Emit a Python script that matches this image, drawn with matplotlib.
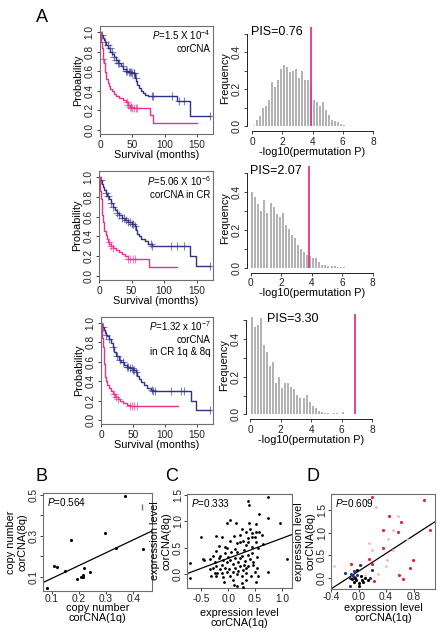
import numpy as np
import matplotlib
matplotlib.use("Agg")
import matplotlib.pyplot as plt

plt.rcParams['font.family'] = ['Liberation Sans', 'DejaVu Sans']
plt.rcParams['mathtext.fontset'] = 'custom'
plt.rcParams['mathtext.rm'] = 'Liberation Sans'
plt.rcParams['mathtext.it'] = 'Liberation Sans:italic'
plt.rcParams['axes.unicode_minus'] = False

# ---------------- data ----------------
# Kaplan-Meier curves (step points) and censor times
km1_blue_t = [0, 2, 4, 6, 8, 10, 13, 16, 19, 22, 25, 28, 32, 36, 40, 45, 50, 54, 56, 58, 60, 63, 66, 70, 75, 80, 120, 140, 170]
km1_blue_s = [1.0, 0.97, 0.94, 0.92, 0.9, 0.87, 0.84, 0.8, 0.77, 0.74, 0.71, 0.68, 0.65, 0.62, 0.6, 0.59, 0.58, 0.53, 0.5, 0.46, 0.43, 0.4, 0.38, 0.36, 0.35, 0.35, 0.3, 0.14, 0.14]
km1_blue_c = [3, 8, 12, 15, 18, 22, 25, 28, 30, 35, 40, 42, 45, 47, 48, 50, 52, 53, 55, 80, 82, 112, 123, 130, 170]
km1_pink_t = [0, 1, 2, 3, 4, 5, 6, 7, 8, 9, 10, 12, 14, 16, 18, 21, 25, 30, 35, 40, 43, 46, 49, 78, 82, 150]
km1_pink_s = [1.0, 0.95, 0.9, 0.84, 0.78, 0.72, 0.68, 0.63, 0.59, 0.56, 0.52, 0.48, 0.45, 0.42, 0.4, 0.37, 0.35, 0.33, 0.31, 0.29, 0.26, 0.24, 0.22, 0.15, 0.07, 0.07]
km1_pink_c = [5, 42, 44, 46, 48, 50, 52, 55, 58]

km2_blue_t = [0, 2, 4, 6, 8, 10, 12, 15, 18, 21, 24, 27, 30, 35, 40, 45, 50, 55, 57, 59, 62, 65, 70, 75, 82, 140, 149, 170]
km2_blue_s = [1.0, 0.97, 0.93, 0.9, 0.87, 0.84, 0.81, 0.78, 0.74, 0.7, 0.67, 0.64, 0.62, 0.59, 0.57, 0.55, 0.53, 0.5, 0.46, 0.42, 0.4, 0.37, 0.35, 0.32, 0.3, 0.2, 0.1, 0.1]
km2_blue_c = [3, 10, 14, 18, 22, 27, 30, 35, 38, 42, 45, 48, 50, 52, 55, 80, 82, 110, 120, 130, 170]
km2_pink_t = [0, 1, 2, 3, 4, 5, 6, 7, 8, 10, 12, 14, 16, 18, 22, 26, 30, 35, 40, 44, 76, 120]
km2_pink_s = [1.0, 0.93, 0.86, 0.78, 0.7, 0.62, 0.55, 0.5, 0.45, 0.41, 0.37, 0.34, 0.32, 0.3, 0.28, 0.26, 0.24, 0.22, 0.2, 0.17, 0.09, 0.09]
km2_pink_c = [15, 18, 22, 45, 48, 52, 56]

km3_blue_t = [0, 2, 4, 6, 8, 10, 12, 15, 18, 21, 24, 28, 32, 36, 40, 45, 50, 54, 57, 60, 63, 67, 72, 78, 82, 140, 149, 170]
km3_blue_s = [1.0, 0.96, 0.93, 0.9, 0.88, 0.86, 0.83, 0.79, 0.75, 0.7, 0.66, 0.62, 0.6, 0.57, 0.55, 0.54, 0.52, 0.49, 0.45, 0.42, 0.39, 0.36, 0.33, 0.31, 0.3, 0.2, 0.1, 0.1]
km3_blue_c = [3, 8, 12, 18, 25, 30, 35, 40, 42, 45, 48, 50, 52, 55, 80, 82, 84, 110, 125, 130, 170]
km3_pink_t = [0, 1, 2, 3, 4, 5, 6, 7, 8, 10, 12, 15, 18, 22, 26, 30, 35, 40, 45, 120]
km3_pink_s = [1.0, 0.92, 0.84, 0.75, 0.66, 0.58, 0.5, 0.44, 0.4, 0.36, 0.33, 0.3, 0.27, 0.24, 0.22, 0.2, 0.18, 0.16, 0.14, 0.14]
km3_pink_c = [20, 24, 26, 45, 48, 52, 56]

km_ptext = [r"$\mathit{P}$=1.5 X 10$^{-4}$", r"$\mathit{P}$=5.06 X 10$^{-6}$", r"$\mathit{P}$=1.32 x 10$^{-7}$"]
km_labels = ["corCNA", "corCNA in CR", "corCNA\nin CR 1q & 8q"]

# permutation histograms (bin centres 0.1, 0.3, ..., frequencies)
hist_centers = [0.1 + 0.2 * i for i in range(31)]
hist1 = [0.005, 0.035, 0.053, 0.10, 0.11, 0.14, 0.24, 0.21, 0.25, 0.31, 0.33, 0.32, 0.29, 0.30, 0.31,
         0.26, 0.30, 0.25, 0.25, 0.21, 0.14, 0.13, 0.11, 0.13, 0.085, 0.058, 0.035, 0.028, 0.02, 0.01, 0.005]
hist2 = [0.40, 0.37, 0.335, 0.30, 0.355, 0.29, 0.34, 0.32, 0.285, 0.265, 0.29, 0.225, 0.205, 0.17, 0.155,
         0.12, 0.10, 0.085, 0.065, 0.06, 0.05, 0.05, 0.03, 0.015, 0.012, 0.01, 0.008, 0.007, 0.005, 0.006, 0.003]
hist3 = [0.52, 0.466, 0.475, 0.51, 0.37, 0.33, 0.257, 0.276, 0.168, 0.20, 0.138, 0.165, 0.165, 0.147, 0.133,
         0.103, 0.085, 0.085, 0.103, 0.067, 0.044, 0.032, 0.02, 0.01, 0.009, 0.005, 0.003, 0.007, 0.005, 0.003, 0.01]
pis_obs = [3.9, 3.85, 6.86]
pis_text = ["PIS=0.76", "PIS=2.07", "PIS=3.30"]

# B: copy number
b_x = [0.084, 0.109, 0.121, 0.149, 0.171, 0.194, 0.208, 0.214, 0.216, 0.219, 0.241, 0.296, 0.336, 0.369, 0.437]
b_y = [0.047, 0.153, 0.149, 0.13, 0.278, 0.087, 0.097, 0.10, 0.11, 0.143, 0.121, 0.314, 0.242, 0.495, 0.237]
b_fit = (0.0285, 0.63)

# C: expression
c_x = [0.75, 0.36, 0.39, 0.58, 0.75, 0.96, 0.04, -0.02, 0.14, 0.39, 0.51, 0.26, 0.33, 0.41, 0.44, 0.52, 0.58,
       0.21, 0.11, -0.11, -0.22, -0.5, 0.63, 0.36, 0.5, 0.28, 0.22, 0.03, 0.16, 0.64, 0.52, -0.06, -0.02, -0.18,
       -0.22, 0.34, 0.44, 0.30, 0.16, 0.125, 0.06, -0.06, -0.16, -0.28, -0.34, -0.45, -0.25, -0.09, 0.0, 0.04,
       0.125, 0.22, 0.26, 0.36, 0.45, 0.54, 0.41, 0.47, 0.31, 0.19, 0.08, -0.03, -0.125, -0.22, -0.29, -0.16,
       -0.06, 0.02, 0.125, 0.22, 0.29, 0.375, 0.47, 0.53, 0.28, 0.19, 0.08, -0.02, -0.11, -0.21, -0.34, -0.22,
       -0.09, 0.03, 0.16, 0.25, 0.34, 0.42, 0.5, 0.56, -0.08, 0.11, 0.25, 0.28, 0.16, 0.52, 0.75, 1.09, -0.72,
       -0.72, -0.47, 0.08, 0.34, -0.18, 0.44, 0.375, 0.56, 0.33, -0.25, -0.33]
c_y = [1.47, 1.39, 1.32, 1.14, 1.07, 0.96, 1.03, 0.97, 0.96, 0.97, 0.94, 0.85, 0.80, 0.85, 0.77, 0.80, 0.80,
       0.74, 0.72, 0.71, 0.72, 0.71, 0.74, 0.68, 0.71, 0.63, 0.60, 0.63, 0.58, 0.57, 0.60, 0.52, 0.49, 0.53,
       0.44, 0.55, 0.51, 0.46, 0.42, 0.47, 0.41, 0.39, 0.34, 0.34, 0.28, 0.27, 0.23, 0.27, 0.32, 0.27,
       0.30, 0.31, 0.34, 0.36, 0.39, 0.32, 0.28, 0.23, 0.25, 0.22, 0.19, 0.22, 0.17, 0.14, 0.11, 0.095,
       0.12, 0.09, 0.12, 0.14, 0.17, 0.14, 0.16, 0.11, 0.076, 0.057, 0.03, 0.044, 0.013, 0.025, 0.09, -0.04,
       -0.06, -0.04, -0.006, -0.04, 0.013, -0.04, 0.044, -0.04, -0.16, -0.21, -0.18, -0.25, -0.24, -0.16, 0.044, 0.28, 0.215,
       -0.08, 0.28, -0.11, -0.11, 0.30, 0.71, 0.61, 0.49, 0.11, 0.013, -0.04]
c_fit = (0.296, 0.38)

# D: expression, coloured groups
d_red_x = [0.19, 0.95, 0.435, 0.61, 1.04, 0.36, 0.57, 0.35, 0.145, 0.79, 0.75, 0.59, 0.64, -0.11, 0.22, 0.19]
d_red_y = [1.79, 1.72, 1.37, 1.24, 1.06, 1.05, 1.02, 0.66, 0.42, 0.40, 0.22, 0.073, -0.02, 0.31, -0.07, 0.31]
d_pink_x = [0.26, 0.57, 0.50, 0.145, 0.43, 0.19, 0.50, 0.41, 0.40, -0.36, 0.70, 0.28, 0.04, 0.10]
d_pink_y = [1.56, 1.37, 1.06, 0.77, 0.86, 0.61, 0.62, 0.40, 0.26, 0.27, 0.86, 0.095, 0.29, 0.07]
d_navy_x = [-0.2, -0.11, -0.07, -0.06, 0.024, -0.12, 0.19, 0.16, -0.08, -0.13, -0.024]
d_navy_y = [0.12, 0.095, 0.146, 0.02, 0.29, -0.18, 0.18, 0.0, 0.05, 0.0, 0.07]
d_black_x = [-0.03, 0.0, 0.0, 0.05, 0.1, 0.13, -0.05, 0.034, -0.024, -0.1, 0.063, -0.07]
d_black_y = [-0.04, -0.11, -0.17, -0.04, 0.0, -0.04, 0.0, 0.037, 0.18, -0.02, -0.095, -0.095]
d_fit = (0.152, 0.98)

# ---------------- layout ----------------
W, H = 441, 633
fig = plt.figure(figsize=(W / 100, H / 100), dpi=100)

def rect(l, t, r, b):
    return [l / W, 1 - b / H, (r - l) / W, (b - t) / H]

BLUE = '#2E3388'
PINK = '#E8318F'
GRAY_BOX = '#6E6E6E'
FS = 7.3
LFS = 7.8

def style_ticks(ax, length=2.5, pad=1.5):
    ax.tick_params(direction='out', length=length, width=0.6, labelsize=FS, pad=pad, colors='#222222')
    for lab in ax.get_yticklabels():
        lab.set_rotation(90)
        lab.set_va('center')

km_rects = [(100, 26, 213, 134), (99, 171, 213, 280), (101, 317, 213, 424)]
km_data = [
    (km1_blue_t, km1_blue_s, km1_blue_c, km1_pink_t, km1_pink_s, km1_pink_c),
    (km2_blue_t, km2_blue_s, km2_blue_c, km2_pink_t, km2_pink_s, km2_pink_c),
    (km3_blue_t, km3_blue_s, km3_blue_c, km3_pink_t, km3_pink_s, km3_pink_c),
]
for i, (r, d) in enumerate(zip(km_rects, km_data)):
    ax = fig.add_axes(rect(*r))
    bt, bs, bc, pt, ps, pc = d
    for t, s, c, col in [(bt, bs, bc, BLUE), (pt, ps, pc, PINK)]:
        ax.step(t, s, where='post', color=col, lw=1.0)
        t_arr = np.array(t); s_arr = np.array(s)
        idx = np.searchsorted(t_arr, np.array(c), side='right') - 1
        ax.plot(c, s_arr[idx], ls='none', marker='+', ms=6, mew=0.8, color=col, alpha=0.6)
    ax.set_xlim(0, 175)
    ax.set_ylim(-0.04, 1.06)
    ax.set_xticks([0, 50, 100, 150])
    ax.set_yticks([0.0, 0.2, 0.4, 0.6, 0.8, 1.0])
    ax.set_yticklabels(['0.0', '0.2', '0.4', '0.6', '0.8', '1.0'])
    for sp in ax.spines.values():
        sp.set_color(GRAY_BOX)
        sp.set_linewidth(0.8)
    style_ticks(ax)
    ax.set_xlabel('Survival (months)', fontsize=LFS, labelpad=0)
    ax.set_ylabel('Probability', fontsize=LFS, labelpad=1)
    ax.text(0.98, 0.975, km_ptext[i], transform=ax.transAxes, ha='right', va='top', fontsize=7.0)
    ax.text(0.98, 0.83, km_labels[i], transform=ax.transAxes, ha='right', va='top',
            fontsize=7.0, linespacing=1.2)

# histograms
hist_geo = [(252, 15.125, 247, 126, 185, 131), (250.7, 15.25, 246.7, 267.7, 190, 272.7), (250, 15.3, 246, 414.3, 188, 419)]
hist_vals = [hist1, hist2, hist3]
pis_pos = [(0.03, 0.985), (0.025, 0.985), (0.16, 0.985)]
for i, (g, hv) in enumerate(zip(hist_geo, hist_vals)):
    x0, xs, yax, y0, ys, xax = g
    xmin = (yax - x0) / xs
    ymin = -(xax - y0) / ys
    xmax, ymax = 8.3, 0.55
    ax = fig.add_axes(rect(yax, y0 - ymax * ys, x0 + xmax * xs, xax))
    ax.bar(hist_centers, hv, width=0.13, color='#B3B3B3', edgecolor='none')
    ax.vlines(pis_obs[i], 0, 0.535, color=PINK, lw=1.3)
    ax.set_xlim(xmin, xmax)
    ax.set_ylim(ymin, ymax)
    for s in ['top', 'right']:
        ax.spines[s].set_visible(False)
    ax.spines['left'].set_bounds(0, 0.5)
    ax.spines['bottom'].set_bounds(0, 8)
    for s in ['left', 'bottom']:
        ax.spines[s].set_linewidth(0.7)
        ax.spines[s].set_color('#222222')
    ax.set_xticks([0, 2, 4, 6, 8])
    ax.set_yticks([0.0, 0.1, 0.2, 0.3, 0.4, 0.5])
    ax.set_yticklabels(['0.0', '', '0.2', '', '0.4', ''])
    style_ticks(ax)
    ax.set_xlabel('-log10(permutation P)', fontsize=LFS, labelpad=0)
    ax.set_ylabel('Frequency', fontsize=LFS, labelpad=1)
    ax.text(pis_pos[i][0], pis_pos[i][1], pis_text[i], transform=ax.transAxes, ha='left', va='top', fontsize=9)

fig.text(41.5 / W, 1 - 17 / H, 'A', fontsize=13, ha='center', va='center')

# bottom scatter panels
def scatter_panel(r, xlim, ylim, xticks, xtl, yticks, ytl, ptxt, xlabel, ylabel, fit, tpad, xlpad):
    ax = fig.add_axes(rect(*r))
    ax.set_xlim(*xlim)
    ax.set_ylim(*ylim)
    ax.set_xticks(xticks)
    ax.set_xticklabels(xtl)
    ax.set_yticks(yticks)
    ax.set_yticklabels(ytl)
    for sp in ax.spines.values():
        sp.set_color(GRAY_BOX)
        sp.set_linewidth(0.8)
    style_ticks(ax, length=2.0, pad=1.0)
    ax.tick_params(axis='x', pad=tpad)
    ax.axline((0, fit[0]), slope=fit[1], color='black', lw=0.9, zorder=1)
    ax.text(0.04, 0.97, ptxt, transform=ax.transAxes, ha='left', va='top', fontsize=7.2)
    ax.set_xlabel(xlabel, fontsize=LFS, labelpad=xlpad, linespacing=1.0)
    ax.set_ylabel(ylabel, fontsize=LFS, labelpad=1, linespacing=1.15)
    return ax

axB = scatter_panel((43, 493, 152, 591), (0.068, 0.469), (0.03, 0.51),
                    [0.1, 0.2, 0.3, 0.4], ['0.1', '0.2', '0.3', '0.4'],
                    [0.1, 0.2, 0.3, 0.4, 0.5], ['0.1', '', '0.3', '', '0.5'],
                    r"$\mathit{P}$=0.564", 'copy number\ncorCNA(1q)', 'copy number\ncorCNA(8q)', b_fit, 0.2, -1.0)
axB.scatter(b_x, b_y, s=5, color='black', zorder=3, linewidths=0)
axB.plot([0.431], [0.44], marker='|', ms=5, color='#777777', ls='none')

axC = scatter_panel((187, 494, 292, 588), (-0.77, 1.19), (-0.27, 1.52),
                    [-0.5, 0.0, 0.5, 1.0], ['-0.5', '0.0', '0.5', '1.0'],
                    [0.0, 0.5, 1.0, 1.5], ['0.0', '0.5', '1.0', '1.5'],
                    r"$\mathit{P}$=0.333", 'expression level\ncorCNA(1q)', 'expression level\ncorCNA(8q)', c_fit, 2.5, 2.5)
axC.scatter(c_x, c_y, s=4, color='black', zorder=3, linewidths=0)

axD = scatter_panel((331, 494, 435, 589), (-0.4, 1.11), (-0.24, 1.85),
                    [-0.4, 0.0, 0.4, 0.8], ['-0.4', '0.0', '0.4', '0.8'],
                    [0.0, 0.5, 1.0, 1.5], ['0.0', '0.5', '1.0', '1.5'],
                    r"$\mathit{P}$=0.609", 'expression level\ncorCNA(1q)', 'expression level\ncorCNA(8q)', d_fit, 0.5, 0.5)
axD.scatter(d_pink_x, d_pink_y, s=4, color='#F3B8C6', zorder=3, linewidths=0)
axD.scatter(d_red_x, d_red_y, s=5, color='#E3202C', zorder=3, linewidths=0)
axD.scatter(d_navy_x, d_navy_y, s=5, color='#2B2F80', zorder=3, linewidths=0)
axD.scatter(d_black_x, d_black_y, s=5, color='black', zorder=3, linewidths=0)

fig.text(41.7 / W, 1 - 476.7 / H, 'B', fontsize=13, ha='center', va='center')
fig.text(171.7 / W, 1 - 476.7 / H, 'C', fontsize=13, ha='center', va='center')
fig.text(313 / W, 1 - 476.7 / H, 'D', fontsize=13, ha='center', va='center')

fig.savefig('out.png', dpi=100)
